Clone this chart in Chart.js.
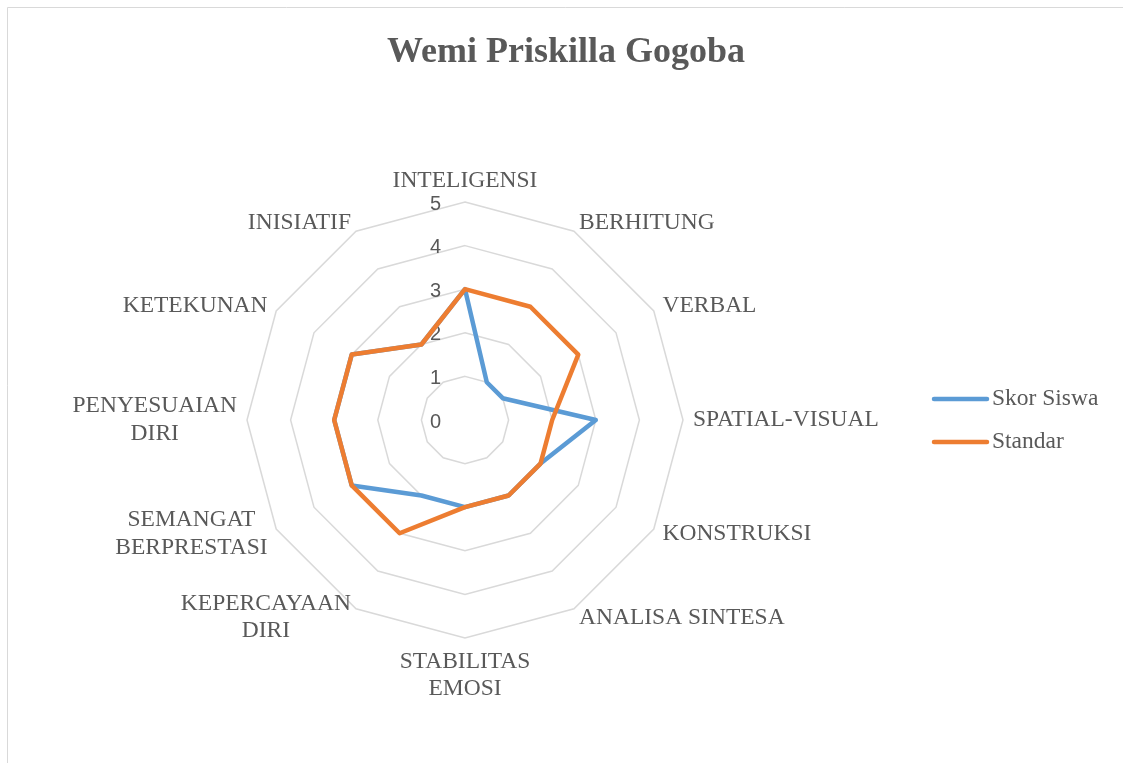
<!DOCTYPE html>
<html>
<head>
<meta charset="utf-8">
<script src="https://cdn.jsdelivr.net/npm/chart.js@4.4.1/dist/chart.umd.min.js"></script>
<style>
  html, body { margin: 0; padding: 0; background: #ffffff; }
  #wrap { position: relative; width: 1123px; height: 763px; overflow: hidden; }
  canvas { display: block; }
</style>
</head>
<body>
<div id="wrap"><canvas id="c" width="1123" height="763"></canvas></div>
<script>
const chartTitle = 'Wemi Priskilla Gogoba';
const categories = [
  ['INTELIGENSI'], ['BERHITUNG'], ['VERBAL'], ['SPATIAL-VISUAL'], ['KONSTRUKSI'],
  ['ANALISA SINTESA'], ['STABILITAS', 'EMOSI'], ['KEPERCAYAAN', 'DIRI'],
  ['SEMANGAT', 'BERPRESTASI'], ['PENYESUAIAN', 'DIRI'], ['KETEKUNAN'], ['INISIATIF']
];
const skorSiswa = [3, 1, 1, 3, 2, 2, 2, 2, 3, 3, 3, 2];
const standar   = [3, 3, 3, 2, 2, 2, 2, 3, 3, 3, 3, 2];
const tickValues = [0, 1, 2, 3, 4, 5];
const seriesNames = ['Skor Siswa', 'Standar'];

const TEXT = '#595959';
const SERIF = '"Liberation Serif", "Times New Roman", serif';
const SANS = '"Liberation Sans", Arial, sans-serif';

const decorPlugin = {
  id: 'decor',
  beforeDraw(chart) {
    const ctx = chart.ctx;
    ctx.save();
    ctx.fillStyle = '#ffffff';
    ctx.fillRect(0, 0, chart.width, chart.height);
    ctx.strokeStyle = '#d9d9d9';
    ctx.lineWidth = 1;
    ctx.beginPath();
    ctx.moveTo(7.5, 763);
    ctx.lineTo(7.5, 7.5);
    ctx.lineTo(1123, 7.5);
    ctx.stroke();
    // title
    ctx.fillStyle = TEXT;
    ctx.font = 'bold 36px ' + SERIF;
    ctx.textAlign = 'center';
    ctx.textBaseline = 'alphabetic';
    ctx.fillText(chartTitle, 566, 62);
    ctx.restore();
  },
  beforeDatasetsDraw(chart) {
    const ctx = chart.ctx;
    const s = chart.scales.r;
    ctx.save();
    ctx.fillStyle = TEXT;
    ctx.font = '20px ' + SANS;
    ctx.textAlign = 'right';
    ctx.textBaseline = 'middle';
    tickValues.forEach(v => {
      const d = s.getDistanceFromCenterForValue(v);
      ctx.fillText(String(v), s.xCenter - 24, s.yCenter - d + 2);
    });
    ctx.restore();
  },
  afterDraw(chart) {
    const ctx = chart.ctx;
    const s = chart.scales.r;
    ctx.save();
    ctx.fillStyle = TEXT;
    ctx.font = '23.5px ' + SERIF;
    ctx.textBaseline = 'middle';
    const lh = 27.5;
    const n = categories.length;
    categories.forEach((lines, i) => {
      const p = s.getPointPosition(i, s.drawingArea + 10);
      const deg = i * 360 / n;
      let align = 'center';
      if (deg > 0.5 && deg < 179.5) align = 'left';
      else if (deg > 180.5) align = 'right';
      const h = lines.length * lh;
      let top;
      if (deg < 0.5) top = p.y - h + 3;
      else if (Math.abs(deg - 180) < 0.5) top = p.y;
      else top = p.y - h / 2;
      ctx.textAlign = 'center';
      const widths = lines.map(t => ctx.measureText(t).width);
      const bw = Math.max(...widths);
      let cx;
      if (align === 'left') cx = p.x + bw / 2;
      else if (align === 'right') cx = p.x - bw / 2;
      else cx = p.x;
      lines.forEach((t, k) => ctx.fillText(t, cx, top + lh * k + lh / 2));
    });
    // legend
    const legendY = [399, 442];
    chart.data.datasets.forEach((ds, k) => {
      ctx.strokeStyle = ds.borderColor;
      ctx.lineWidth = 4.5;
      ctx.lineCap = 'round';
      ctx.beginPath();
      ctx.moveTo(934, legendY[k]);
      ctx.lineTo(987, legendY[k]);
      ctx.stroke();
      ctx.fillStyle = TEXT;
      ctx.textAlign = 'left';
      ctx.textBaseline = 'middle';
      ctx.fillText(ds.label, 992, legendY[k]);
    });
    ctx.restore();
  }
};

new Chart(document.getElementById('c'), {
  type: 'radar',
  data: {
    labels: categories,
    datasets: [
      { label: seriesNames[0], data: skorSiswa, borderColor: '#5b9bd5', backgroundColor: 'rgba(0,0,0,0)',
        borderWidth: 4.5, pointRadius: 0, pointHoverRadius: 0, fill: false, borderJoinStyle: 'round', order: 1 },
      { label: seriesNames[1], data: standar, borderColor: '#ed7d31', backgroundColor: 'rgba(0,0,0,0)',
        borderWidth: 4.5, pointRadius: 0, pointHoverRadius: 0, fill: false, borderJoinStyle: 'round', order: 0 }
    ]
  },
  options: {
    responsive: false,
    animation: false,
    devicePixelRatio: 1,
    layout: { padding: { left: 247, right: 440, top: 202, bottom: 125 } },
    plugins: { legend: { display: false }, title: { display: false }, tooltip: { enabled: false } },
    scales: {
      r: {
        min: 0, max: 5,
        ticks: { display: false, stepSize: 1 },
        pointLabels: { display: false },
        angleLines: { display: false },
        grid: { color: '#d9d9d9', lineWidth: 1.5 }
      }
    }
  },
  plugins: [decorPlugin]
});
</script>
</body>
</html>
